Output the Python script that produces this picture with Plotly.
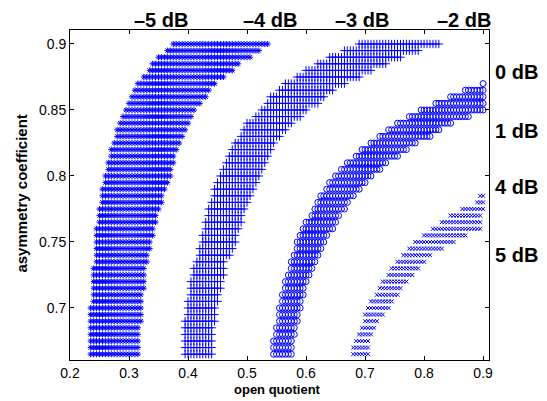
import plotly.graph_objects as go

# ---- data (row y values and x-extent of each band per row) ----
ROWS = [0.900, 0.895, 0.890, 0.885, 0.880, 0.875, 0.870, 0.865, 0.860, 0.855,
        0.850, 0.845, 0.840, 0.835, 0.830, 0.825, 0.820, 0.815, 0.810, 0.805,
        0.800, 0.795, 0.790, 0.785, 0.780, 0.775, 0.770, 0.765, 0.760, 0.755,
        0.750, 0.745, 0.740, 0.735, 0.730, 0.725, 0.720, 0.715, 0.710, 0.705,
        0.700, 0.695, 0.690, 0.685, 0.680, 0.675, 0.670, 0.665]
X_STEP = 0.005

# -5 dB band (asterisks), rows 0.900 .. 0.665
band5_y = ROWS
band5_xmin = [0.375, 0.365, 0.35, 0.34, 0.335, 0.325, 0.315, 0.31, 0.305, 0.30,
              0.295, 0.29, 0.285, 0.28, 0.28, 0.275, 0.27, 0.27, 0.265, 0.265,
              0.26, 0.26, 0.255, 0.255, 0.255, 0.25, 0.25, 0.25, 0.245, 0.245,
              0.245, 0.245, 0.245, 0.245, 0.24, 0.24, 0.24, 0.24, 0.24, 0.24,
              0.235, 0.235, 0.235, 0.235, 0.235, 0.235, 0.235, 0.235]
band5_xmax = [0.535, 0.52, 0.505, 0.485, 0.475, 0.46, 0.445, 0.435, 0.43, 0.42,
              0.41, 0.405, 0.40, 0.395, 0.39, 0.385, 0.38, 0.375, 0.375, 0.37,
              0.37, 0.365, 0.36, 0.355, 0.355, 0.35, 0.345, 0.345, 0.34, 0.34,
              0.335, 0.335, 0.33, 0.33, 0.325, 0.325, 0.325, 0.325, 0.32, 0.32,
              0.32, 0.32, 0.32, 0.315, 0.315, 0.315, 0.315, 0.315]

# -4 dB band (plus signs), rows 0.900 .. 0.665
band4_y = ROWS
band4_xmin = [0.69, 0.665, 0.64, 0.62, 0.60, 0.585, 0.565, 0.555, 0.54, 0.535,
              0.525, 0.515, 0.50, 0.495, 0.49, 0.48, 0.475, 0.47, 0.465, 0.46,
              0.455, 0.45, 0.445, 0.445, 0.44, 0.435, 0.435, 0.43, 0.43, 0.425,
              0.425, 0.42, 0.42, 0.415, 0.41, 0.41, 0.405, 0.405, 0.405, 0.40,
              0.40, 0.40, 0.395, 0.395, 0.395, 0.395, 0.395, 0.395]
band4_xmax = [0.825, 0.79, 0.76, 0.735, 0.71, 0.69, 0.665, 0.645, 0.63, 0.62,
              0.60, 0.59, 0.575, 0.565, 0.555, 0.545, 0.54, 0.535, 0.53, 0.525,
              0.52, 0.515, 0.51, 0.505, 0.50, 0.495, 0.49, 0.49, 0.485, 0.48,
              0.48, 0.475, 0.47, 0.46, 0.46, 0.46, 0.455, 0.455, 0.45, 0.45,
              0.445, 0.445, 0.445, 0.44, 0.44, 0.44, 0.44, 0.44]

# -3 dB band (circles), rows 0.870 .. 0.665
band3_y = ROWS[6:]
band3_xmin = [0.90, 0.87, 0.845, 0.82, 0.795, 0.775, 0.755, 0.74, 0.725, 0.71,
              0.695, 0.685, 0.67, 0.66, 0.65, 0.64, 0.635, 0.625, 0.62, 0.615,
              0.61, 0.60, 0.595, 0.59, 0.585, 0.585, 0.58, 0.575, 0.575, 0.57,
              0.565, 0.565, 0.56, 0.56, 0.555, 0.555, 0.555, 0.55, 0.55, 0.545,
              0.545, 0.545]
band3_xmax = [0.90, 0.90, 0.90, 0.90, 0.90, 0.875, 0.845, 0.825, 0.81, 0.785,
              0.77, 0.755, 0.735, 0.725, 0.71, 0.70, 0.69, 0.68, 0.67, 0.665,
              0.655, 0.65, 0.645, 0.635, 0.63, 0.625, 0.62, 0.615, 0.61, 0.605,
              0.60, 0.595, 0.595, 0.59, 0.59, 0.585, 0.585, 0.58, 0.58, 0.575,
              0.575, 0.575]

# -2 dB band (crosses), rows 0.785 .. 0.665
band2_y = ROWS[23:]
band2_xmin = [0.895, 0.89, 0.865, 0.845, 0.83, 0.815, 0.80, 0.785, 0.775, 0.765,
              0.755, 0.745, 0.74, 0.73, 0.725, 0.72, 0.71, 0.705, 0.70, 0.70,
              0.695, 0.69, 0.685, 0.68, 0.68]
band2_xmax = [0.90, 0.90, 0.90, 0.895, 0.895, 0.895, 0.87, 0.85, 0.83, 0.81,
              0.80, 0.79, 0.78, 0.77, 0.76, 0.755, 0.745, 0.74, 0.73, 0.72,
              0.715, 0.71, 0.705, 0.705, 0.705]

TOP_LABELS = ["\u20135 dB", "\u20134 dB", "\u20133 dB", "\u20132 dB"]
RIGHT_LABELS = ["0 dB", "1 dB", "4 dB", "5 dB"]
X_TICKS = [0.2, 0.3, 0.4, 0.5, 0.6, 0.7, 0.8, 0.9]
Y_TICKS = [0.7, 0.75, 0.8, 0.85, 0.9]


def grid_points(ys, xmins, xmaxs):
    px, py = [], []
    for y, a, b in zip(ys, xmins, xmaxs):
        n = int(round((b - a) / X_STEP))
        for i in range(n + 1):
            px.append(round(a + i * X_STEP, 4))
            py.append(y)
    return px, py


BLUE = "#0000ff"
FONT = "Liberation Sans, Arial, Helvetica, sans-serif"

fig = go.Figure()
for (ys, a, b), sym, size in [
    ((band5_y, band5_xmin, band5_xmax), "asterisk-open", 5),
    ((band4_y, band4_xmin, band4_xmax), "cross-thin-open", 6),
    ((band3_y, band3_xmin, band3_xmax), "circle-open", 6),
    ((band2_y, band2_xmin, band2_xmax), "x-thin-open", 4),
]:
    x, y = grid_points(ys, a, b)
    fig.add_trace(go.Scatter(
        x=x, y=y, mode="markers", showlegend=False, hoverinfo="skip",
        marker=dict(symbol=sym, size=size, color=BLUE,
                    line=dict(color=BLUE, width=1)),
    ))

axis_common = dict(
    showline=True, linecolor="black", linewidth=1, mirror="allticks",
    ticks="inside", ticklen=4, tickcolor="black", tickwidth=1,
    showgrid=False, zeroline=False,
    tickfont=dict(family=FONT, size=14, color="black"),
)

fig.update_layout(
    width=547, height=401,
    margin=dict(l=70, r=58, t=30, b=41),
    paper_bgcolor="white", plot_bgcolor="white",
    xaxis=dict(range=[0.2, 0.91], tickvals=X_TICKS,
               ticktext=[f"{v:g}" for v in X_TICKS], **axis_common),
    yaxis=dict(range=[0.6606, 0.9106], tickvals=Y_TICKS,
               ticktext=[f"{v:g}" for v in Y_TICKS], **axis_common),
)

label_font = dict(family=FONT, size=20, color="black")
for txt, xp in zip(TOP_LABELS, [0.217, 0.477, 0.697, 0.940]):
    fig.add_annotation(text=f"<b>{txt}</b>", x=xp, y=1.03, xref="paper", yref="paper",
                       showarrow=False, font=label_font, xanchor="center", yanchor="middle")
for txt, yp in zip(RIGHT_LABELS, [0.873, 0.694, 0.524, 0.318]):
    fig.add_annotation(text=f"<b>{txt}</b>", x=1.010, y=yp, xref="paper", yref="paper",
                       showarrow=False, font=label_font, xanchor="left", yanchor="middle")

fig.add_annotation(text="<b>open quotient</b>", x=0.496, y=-0.088, xref="paper", yref="paper",
                   showarrow=False, font=dict(family=FONT, size=13, color="black"),
                   xanchor="center", yanchor="middle")
fig.add_annotation(text="<b>asymmetry coefficient</b>", x=-0.118, y=0.503, xref="paper",
                   yref="paper", showarrow=False, textangle=-90,
                   font=dict(family=FONT, size=15, color="black"),
                   xanchor="center", yanchor="middle")

fig.write_html("out.html", config={"displayModeBar": False},
               post_script="document.body.style.margin='0';document.body.style.padding='0';")
